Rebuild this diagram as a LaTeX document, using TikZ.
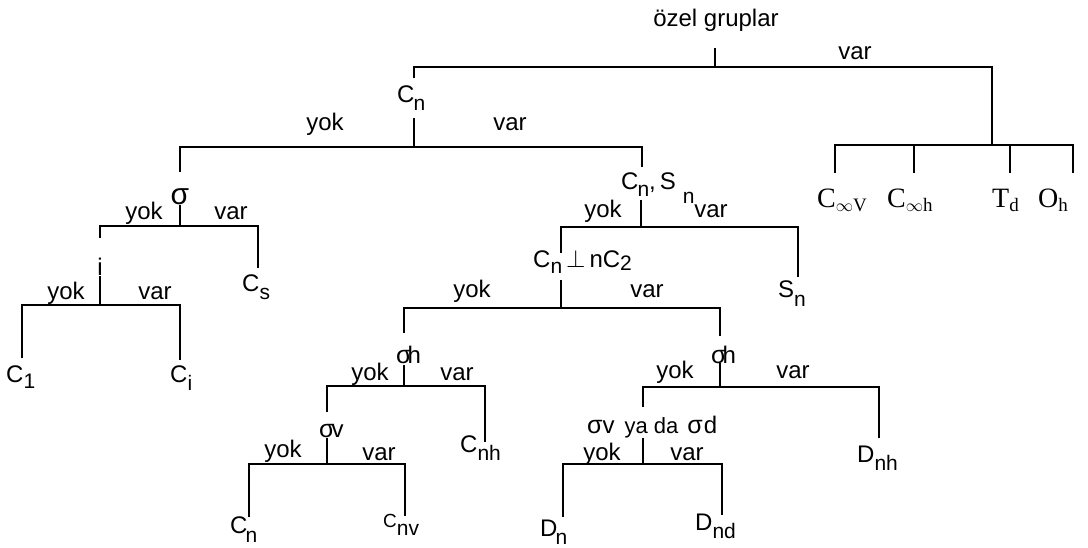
\documentclass[tikz,border=0pt]{standalone}
\usepackage{fontspec}
\setmainfont{Liberation Sans}
\newfontfamily\tms{Liberation Serif}

% lowered same-height index used in the sans labels
\newcommand\sbs[2][8pt]{\raisebox{-#1}{\fontsize{21}{21}\selectfont #2}}
% small lowered index used in the serif labels
\newcommand\tsb[1]{\raisebox{-4pt}{\fontsize{19}{19}\selectfont #1}}
% larger sigma
\newcommand\sg[1][25]{{\fontsize{#1}{#1}\selectfont σ}}

\begin{document}
\begin{tikzpicture}[x=1pt,y=-1pt,
  branch/.style={line width=1.2pt},
  lbl/.style={inner sep=0pt, font=\fontsize{24}{26}\selectfont},
  word/.style={lbl, anchor=base},
  head/.style={lbl, anchor=base west},
  grp/.style={inner sep=0pt, anchor=base west, font=\tms\fontsize{28}{30}\selectfont}]
\useasboundingbox (0,0) rectangle (1088,548);

% ---------- labels ----------
\node[word] (root) at (716,27) {özel gruplar};
\node[word] (v0) at (855,60) {var};
\node[head] (cn1) at (397,103) {C\kern-1pt\sbs{n}};
\node[word] (y1) at (325,131) {yok};
\node[word] (v1) at (510,131) {var};

\node[word] (sig) at (180,205) {\sg[30]};
\node[word] (y2) at (144,220) {yok};
\node[word] (v2) at (231,220) {var};
\node[head] (cs) at (242,292) {C\sbs{s}};
\node[word] (inv) at (100,276) {i};
\node[word] (y3) at (66,300) {yok};
\node[word] (v3) at (155,300) {var};
\node[head] (c1) at (6,382) {C\sbs[6pt]{1}};
\node[head] (ci) at (170,382) {C\sbs{i}};

\node[head] (cnsn) at (621,190) {C\kern-1pt\sbs[7pt]{n},\,S\hspace{7pt}\sbs[14pt]{n}};
\node[word] (y4) at (603,218) {yok};
\node[word] (v4) at (711,218) {var};
\node[head] (perp) at (533,268) {C\sbs[6pt]{n}\,$\perp$\,nC\sbs[3pt]{2}};
\node[head] (sn) at (778,298) {S\sbs[9pt]{n}};
\node[word] (y5) at (472,298) {yok};
\node[word] (v5) at (647,298) {var};

\node[head] (shl) at (396,363) {\sg\kern-4pt h};
\node[word] (y6) at (370,381) {yok};
\node[word] (v6) at (457,381) {var};
\node[head] (svl) at (319,437) {\sg\kern-3pt v};
\node[head] (cnh) at (460,452) {C\sbs{nh}};
\node[word] (y7) at (283,457) {yok};
\node[word] (v7) at (379,460) {var};
\node[head] (cnb) at (230,533) {C\kern-2pt\sbs[9pt]{n}};
\node[head] (cnv) at (383,527) {{\fontsize{19}{19}\selectfont C}\sbs{nv}};

\node[head] (shr) at (711,363) {\sg\kern-4pt h};
\node[word] (y8) at (675,378) {yok};
\node[word] (v8) at (793,378) {var};
\node[head] (svd) at (587,433) {\sg v\hspace{10pt}{\fontsize{22}{22}\selectfont ya da}\hspace{9pt}\sg\kern1pt d};
\node[word] (y9) at (602,460) {yok};
\node[word] (v9) at (687,460) {var};
\node[head] (dn) at (540,536) {D\kern-2pt\sbs[8pt]{n}};
\node[head] (dnd) at (695,530) {D\sbs{nd}};
\node[head] (dnh) at (857,462) {D\sbs{nh}};

\node[grp] (cinfv) at (817,208) {C\tsb{$\infty$V}};
\node[grp] (cinfh) at (887,208) {C\tsb{$\infty$h}};
\node[grp] (td) at (992,208) {T\tsb{d}};
\node[grp] (oh) at (1038,208) {O\tsb{h}};

% ---------- stem ends and junctions ----------
\coordinate (root-s) at (715,48);   \coordinate (j0) at (715,67);
\coordinate (cn1-t) at (414,78);    \coordinate (cn1-s) at (414,118);
\coordinate (j1) at (414,147);
\coordinate (jg) at (992,145);
\coordinate (cinfv-t) at (835,173); \coordinate (cinfh-t) at (914,173);
\coordinate (td-t) at (1010,173);   \coordinate (oh-t) at (1073,173);

\coordinate (sig-t) at (180,172);   \coordinate (sig-s) at (180,205);
\coordinate (j2) at (180,226);
\coordinate (inv-t) at (100,238);   \coordinate (inv-s) at (100,276);
\coordinate (j3) at (100,305);
\coordinate (cs-t) at (258,268);
\coordinate (c1-t) at (22,358);     \coordinate (ci-t) at (180,360);

\coordinate (cnsn-t) at (642,167);  \coordinate (cnsn-s) at (641,200);
\coordinate (j4) at (641,227);
\coordinate (perp-t) at (561,253);  \coordinate (perp-s) at (561,280);
\coordinate (j5) at (561,308);
\coordinate (sn-t) at (798,277);

\coordinate (shl-t) at (404,333);   \coordinate (shl-s) at (404,365);
\coordinate (j6) at (404,386);
\coordinate (svl-t) at (327,412);   \coordinate (svl-s) at (327,438);
\coordinate (j7) at (327,464);
\coordinate (cnh-t) at (485,442);
\coordinate (cnb-t) at (249,517);   \coordinate (cnv-t) at (405,516);

\coordinate (shr-t) at (720,336);   \coordinate (shr-s) at (720,363);
\coordinate (j8) at (720,387);
\coordinate (svd-t) at (643,407);   \coordinate (svd-s) at (643,438);
\coordinate (j9) at (643,464);
\coordinate (dnh-t) at (879,438);
\coordinate (dn-t) at (563,517);    \coordinate (dnd-t) at (722,515);

% ---------- connectors ----------
\draw[branch] (root-s) -- (j0);
\draw[branch] (cn1-t) |- (j0) -| (jg);
\draw[branch] (cinfv-t) |- (jg) -| (oh-t);
\draw[branch] (cinfh-t) -- (cinfh-t |- jg);
\draw[branch] (td-t) -- (td-t |- jg);

\draw[branch] (cn1-s) -- (j1);
\draw[branch] (sig-t) |- (j1) -| (cnsn-t);

\draw[branch] (sig-s) -- (j2);
\draw[branch] (inv-t) |- (j2) -| (cs-t);
\draw[branch] (inv-s) -- (j3);
\draw[branch] (c1-t) |- (j3) -| (ci-t);

\draw[branch] (cnsn-s) -- (j4);
\draw[branch] (perp-t) |- (j4) -| (sn-t);
\draw[branch] (perp-s) -- (j5);
\draw[branch] (shl-t) |- (j5) -| (shr-t);

\draw[branch] (shl-s) -- (j6);
\draw[branch] (svl-t) |- (j6) -| (cnh-t);
\draw[branch] (svl-s) -- (j7);
\draw[branch] (cnb-t) |- (j7) -| (cnv-t);

\draw[branch] (shr-s) -- (j8);
\draw[branch] (svd-t) |- (j8) -| (dnh-t);
\draw[branch] (svd-s) -- (j9);
\draw[branch] (dn-t) |- (j9) -| (dnd-t);
\end{tikzpicture}
\end{document}
